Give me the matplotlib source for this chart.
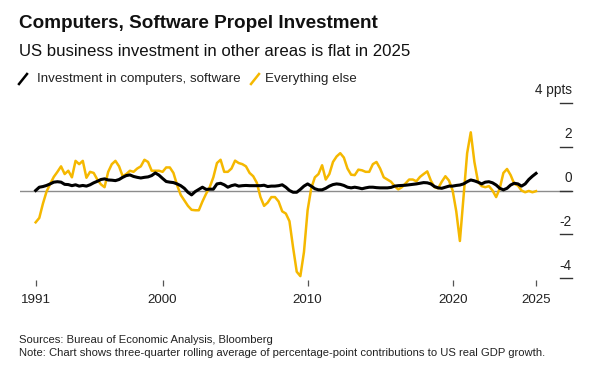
"""Computers/software vs everything else: contributions to US real GDP growth."""
import matplotlib
matplotlib.use("Agg")
import matplotlib.pyplot as plt
import matplotlib.transforms as mtransforms
from matplotlib.lines import Line2D
import numpy as np

plt.rcParams["font.family"] = ["Liberation Sans", "DejaVu Sans"]

# Quarterly points, 1991 Q1 through 2025 Q3 (three-quarter rolling averages, ppts)
START_YEAR = 1991.25
STEP = 0.25

computers = [
    0.0, 0.15, 0.18, 0.23, 0.3, 0.38, 0.4, 0.38, 0.28, 0.27,
    0.22, 0.26, 0.2, 0.23, 0.2, 0.26, 0.35, 0.42, 0.5, 0.53,
    0.48, 0.47, 0.45, 0.5, 0.6, 0.68, 0.71, 0.64, 0.6, 0.57,
    0.6, 0.62, 0.68, 0.8, 0.7, 0.55, 0.41, 0.38, 0.36, 0.3,
    0.22, 0.1, -0.08, -0.2, -0.05, 0.05, 0.15, 0.05, 0.06, 0.06,
    0.3, 0.33, 0.26, 0.15, 0.22, 0.26, 0.2, 0.22, 0.23, 0.22,
    0.22, 0.22, 0.22, 0.24, 0.18, 0.2, 0.2, 0.22, 0.26, 0.15,
    0.0, -0.08, -0.08, 0.05, 0.2, 0.3, 0.2, 0.08, 0.03, 0.03,
    0.1, 0.2, 0.27, 0.3, 0.28, 0.23, 0.15, 0.12, 0.15, 0.12,
    0.08, 0.12, 0.15, 0.15, 0.13, 0.12, 0.12, 0.12, 0.14, 0.2,
    0.22, 0.23, 0.24, 0.26, 0.28, 0.3, 0.33, 0.36, 0.35, 0.3,
    0.18, 0.12, 0.1, 0.15, 0.2, 0.2, 0.23, 0.25, 0.3, 0.4,
    0.48, 0.44, 0.38, 0.3, 0.38, 0.4, 0.35, 0.25, 0.1, 0.03,
    0.1, 0.25, 0.33, 0.3, 0.2, 0.3, 0.5, 0.65, 0.78,
]

everything_else = [
    -1.45, -1.25, -0.6, -0.05, 0.3, 0.62, 0.85, 1.1, 0.75, 0.9,
    0.6, 1.35, 1.2, 1.35, 0.58, 0.85, 0.8, 0.5, 0.28, 0.15,
    0.85, 1.2, 1.35, 1.1, 0.65, 0.75, 0.9, 0.85, 1.0, 1.1,
    1.4, 1.3, 0.9, 0.9, 0.9, 0.85, 1.05, 1.05, 0.8, 0.25,
    -0.2, -0.45, -0.7, -0.88, -0.9, -0.9, -0.5, -0.15, 0.15, 0.6,
    1.25, 1.4, 0.85, 0.85, 1.0, 1.36, 1.25, 1.2, 1.1, 0.8,
    0.65, 0.35, -0.3, -0.7, -0.55, -0.3, -0.3, -0.5, -0.95, -1.05,
    -1.4, -2.6, -3.7, -3.9, -2.8, -0.9, 0.1, 0.6, 0.75, 1.15,
    0.5, 0.75, 1.3, 1.55, 1.7, 1.5, 1.0, 0.72, 0.7, 0.95,
    0.92, 0.85, 0.85, 1.2, 1.3, 1.0, 0.6, 0.5, 0.4, 0.2,
    0.05, 0.15, 0.32, 0.5, 0.5, 0.42, 0.62, 0.75, 0.87, 0.45,
    0.15, 0.1, 0.4, 0.65, 0.45, 0.0, -0.95, -2.3, -0.3, 1.7,
    2.65, 1.3, 0.4, 0.2, 0.15, 0.2, 0.0, -0.3, 0.1, 0.8,
    0.98, 0.7, 0.3, 0.23, 0.0, -0.08, -0.02, -0.08, -0.03,
]

x_ticks = [1991.25, 2000.0, 2010.0, 2020.0, 2025.75]
x_labels = ["1991", "2000", "2010", "2020", "2025"]
y_ticks = [4, 2, 0, -2, -4]
y_labels = ["4 ppts", "2", "0", "-2", "-4"]

BLACK = "#000000"
YELLOW = "#F5B800"
GREY = "#8c8c8c"
TEXT = "#222222"

W, H = 593, 374
fig = plt.figure(figsize=(W / 100, H / 100), dpi=100)


def fx(px):
    return px / W


def fy(py):
    return 1 - py / H


ax = fig.add_axes([fx(20), fy(286), fx(572) - fx(20), fy(95) - fy(286)])
for s in ax.spines.values():
    s.set_visible(False)

t = START_YEAR + STEP * np.arange(len(computers))
ax.axhline(0, color=GREY, lw=1.0, zorder=1)
ax.plot(t, everything_else, color=YELLOW, lw=1.8, zorder=2, solid_joinstyle="round")
ax.plot(t, computers, color=BLACK, lw=2.2, zorder=3, solid_joinstyle="round")

ax.set_xlim(1990.17, 2028.23)
ax.set_ylim(-4.35, 4.35)

ax.set_xticks(x_ticks)
ax.set_xticklabels(x_labels)
ax.tick_params(axis="x", direction="in", length=4, width=0.9, color="#555555",
               pad=6, labelsize=9.6, labelcolor=TEXT)
ax.set_yticks([])

# right-side value ticks: short dashes with labels sitting above them
trans = mtransforms.blended_transform_factory(ax.transAxes, ax.transData)
for v, lab in zip(y_ticks, y_labels):
    ax.plot([0.978, 1.0], [v, v], color="#333333", lw=1.0, transform=trans,
            clip_on=False, zorder=4)
    ax.annotate(lab, xy=(1.0, v), xycoords=trans, xytext=(0, 9),
                textcoords="offset points", ha="right", va="center",
                fontsize=9.8, color=TEXT)

# header
fig.text(fx(19), fy(23.5), "Computers, Software Propel Investment",
         fontsize=13.6, fontweight="bold", color="#111111", va="center")
fig.text(fx(19), fy(51), "US business investment in other areas is flat in 2025",
         fontsize=12.1, color="#111111", va="center")

# legend with slanted line icons
for x0, col in [(19, BLACK), (251, YELLOW)]:
    fig.add_artist(Line2D([fx(x0), fx(x0 + 8)], [fy(84), fy(74)],
                          color=col, lw=1.8, transform=fig.transFigure))
fig.text(fx(37), fy(79), "Investment in computers, software",
         fontsize=9.6, color=TEXT, va="center")
fig.text(fx(265), fy(79), "Everything else", fontsize=9.6, color=TEXT, va="center")

# footer
fig.text(fx(19), fy(340), "Sources: Bureau of Economic Analysis, Bloomberg",
         fontsize=8.1, color=TEXT, va="center")
fig.text(fx(19), fy(353.5),
         "Note: Chart shows three-quarter rolling average of percentage-point "
         "contributions to US real GDP growth.",
         fontsize=8.1, color=TEXT, va="center")

fig.savefig("out.png", dpi=100, facecolor="white")
